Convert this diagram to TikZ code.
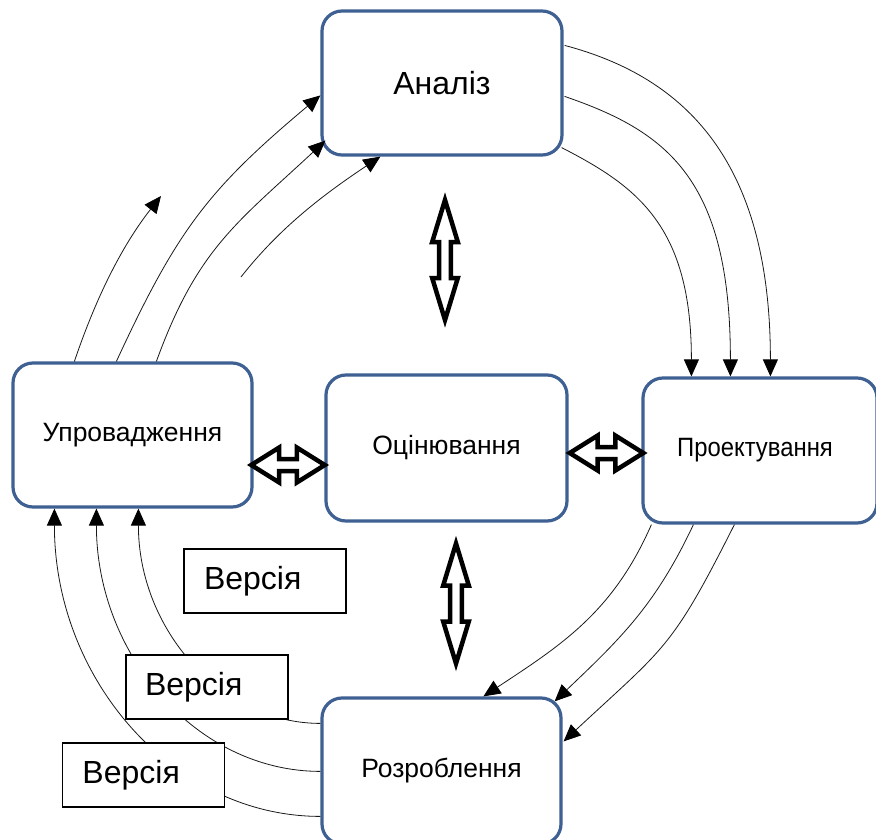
\documentclass[tikz,border=0pt]{standalone}
\usepackage{fontspec}
\setmainfont{Liberation Sans}
\usepackage{graphicx}
\usetikzlibrary{arrows.meta,calc}
\definecolor{boxblue}{RGB}{62,96,146}
\tikzset{
  arrlen/.store in=\arrL, headlen/.store in=\arrH,
  headhw/.store in=\arrW, shafthw/.store in=\arrS,
  arrlen=60, headlen=42, headhw=13, shafthw=6,
  dblline/.style={line width=4.5pt, draw=black, fill=white, line join=miter},
  % hollow two-headed block arrow, centred on the origin, along x
  dblarr/.pic={
    \draw[dblline] (-\arrL,0) -- (-\arrL+\arrH,\arrW) -- (-\arrL+\arrH,\arrS)
      -- (\arrL-\arrH,\arrS) -- (\arrL-\arrH,\arrW) -- (\arrL,0)
      -- (\arrL-\arrH,-\arrW) -- (\arrL-\arrH,-\arrS) -- (-\arrL+\arrH,-\arrS)
      -- (-\arrL+\arrH,-\arrW) -- cycle;
  }
}
\begin{document}
\begin{tikzpicture}[x=1pt,y=-1pt,
  stage/.style={draw=boxblue, line width=3.2pt, rounded corners=20pt, fill=white,
    inner sep=0pt, font=\fontsize{26.5}{30}\selectfont},
  verbox/.style={draw=black, line width=1.6pt, fill=white, minimum width=162pt,
    minimum height=64pt, text width=140pt, inner xsep=11pt, inner ysep=0pt,
    align=left, font=\fontsize{32}{36}\selectfont},
  flow/.style={line width=0.8pt, draw=black!90, -{Triangle[length=17pt,width=15pt,color=black]}},
]
\useasboundingbox (0,0) rectangle (876,840);
\clip (0,0) rectangle (876,840);

% development stages
\node[stage, minimum width=240pt, minimum height=144pt, font=\fontsize{32}{36}\selectfont] (an) at (442,83) {Аналіз};
\node[stage, minimum width=239pt, minimum height=144pt] (up) at (132.5,435) {Упровадження};
\node[stage, minimum width=241pt, minimum height=146pt] (oc) at (446.5,448) {Оцінювання};
\node[stage, minimum width=234pt, minimum height=145pt] (pr) at (760,450.5) {\hspace*{-10pt}\scalebox{0.9}[1]{Проектування}};
\node[stage, minimum width=239pt, minimum height=146pt] (ro) at (441.5,771) {Розроблення};

% analysis -> design
\draw[flow] ($(an.north east)+(1,36)$) .. controls +(121,32) and +(0,-215) .. ($(pr.north west)+(129,0)$);
\draw[flow] ($(an.north east)+(1,87)$) .. controls +(102,35) and +(0,-198) .. ($(pr.north west)+(89,0)$);
\draw[flow] ($(an.south east)+(-2,-9)$) .. controls +(76,39) and +(0,-150) .. ($(pr.north west)+(50,0)$);

% deployment -> analysis
\coordinate (afree) at (161,196);
\coordinate (dfree) at (241,277);
\draw[flow] ($(up.north west)+(63,0)$) .. controls +(21,-62) and +(-40,51) .. (afree);
\draw[flow] ($(up.north west)+(105,0)$) .. controls +(61,-132) and +(-112,94) .. ($(an.north west)+(0,86)$);
\draw[flow] ($(up.north west)+(145,0)$) .. controls +(41,-113) and +(-88,82) .. ($(an.south west)+(5,-16)$);
\draw[flow] (dfree) .. controls +(40,-51) and +(-54,36) .. ($(an.south west)+(60,0)$);

% design -> development
\draw[flow] ($(pr.south west)+(10,0)$) .. controls +(-38,87) and +(79,-52) .. ($(ro.north west)+(163,0)$);
\draw[flow] ($(pr.south west)+(52,0)$) .. controls +(-38,81) and +(65,-62) .. ($(ro.north east)+(-8,5)$);
\draw[flow] ($(pr.south west)+(93,0)$) .. controls +(-63,125) and +(102,-95) .. ($(ro.north east)+(1,45)$);

% development -> deployment
\draw[flow] ($(ro.north west)+(0,27)$) .. controls +(-100,0) and +(0,120) .. ($(up.south west)+(127,0)$);
\draw[flow] ($(ro.north west)+(0,75)$) .. controls +(-124,0) and +(0,146) .. ($(up.south west)+(85,0)$);
\draw[flow] ($(ro.north west)+(0,120)$) .. controls +(-147,0) and +(0,171) .. ($(up.south west)+(43,0)$);

% released versions
\node[verbox] (v1) at (265,581) {\hspace*{9pt}Версія};
\node[verbox] (v2) at (207,687) {\hspace*{8pt}Версія};
\node[verbox] (v3) at (143.5,775) {\hspace*{9pt}Версія};

% evaluation exchanges
\pic[rotate=90, arrlen=60, headlen=42, headhw=12.8, shafthw=5.8] at (445,260) {dblarr};
\pic[rotate=90, arrlen=60, headlen=42, headhw=12.8, shafthw=5.8] at (456,603.5) {dblarr};
\pic[arrlen=36.8, headlen=28, headhw=17.5, shafthw=6] at (288,465) {dblarr};
\pic[arrlen=36.8, headlen=28, headhw=17.5, shafthw=6] at (606.5,453) {dblarr};
\end{tikzpicture}
\end{document}
